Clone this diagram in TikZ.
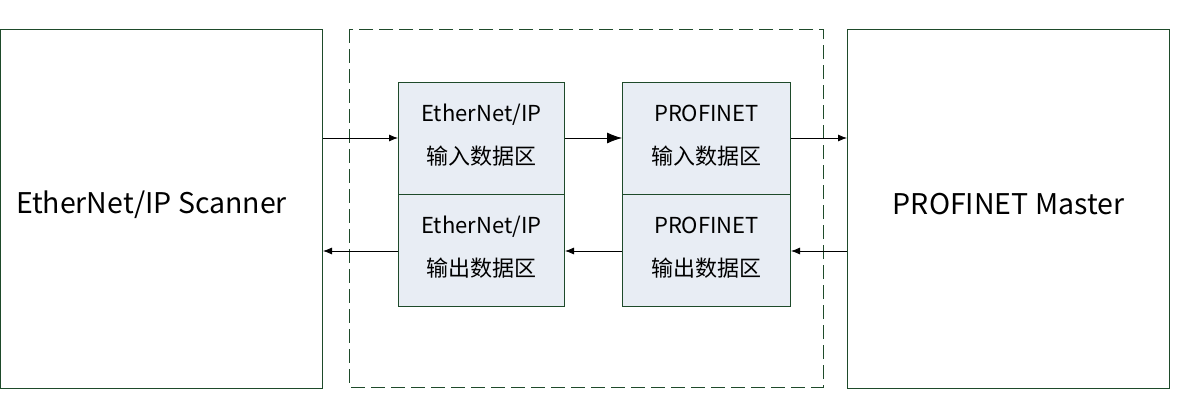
\documentclass[tikz,border=0pt]{standalone}
\usepackage{fontspec}
\setmainfont{Noto Sans CJK SC}
\usetikzlibrary{arrows.meta}
\definecolor{bord}{HTML}{1E4A2A}
\definecolor{boxfill}{HTML}{E8EDF4}
\begin{document}
\begin{tikzpicture}[x=1pt,y=-1pt,
  outer/.style={draw=bord,line width=1pt,minimum width=322pt,minimum height=359pt,inner sep=0pt},
  lbl/.style={font=\fontsize{28.5}{32}\selectfont,inner sep=0pt},
  area/.style={draw=bord,fill=boxfill,line width=1pt,minimum width=166pt,minimum height=112pt,inner sep=0pt},
  txt/.style={inner sep=0pt,align=center,font=\fontsize{22}{43}\selectfont},
  arr/.style={line width=0.8pt,-{Latex[length=9pt,width=7pt]}},
  bigarr/.style={line width=0.8pt,-{Latex[length=15pt,width=11pt]}}]
\useasboundingbox (0,0) rectangle (1179,416);
\node[outer,anchor=north west] (scan) at (0,29) {};
\node[lbl] (scantext) at ([xshift=-10pt,yshift=4.5pt]scan.center) {EtherNet/IP Scanner};
\node[outer,anchor=north west] (master) at (847,29) {};
\node[lbl] (mastertext) at ([yshift=4.5pt]master.center) {PROFINET Master};
\draw[bord,line width=0.8pt,dash pattern=on 14pt off 6pt] (349,29) rectangle (823,387);
\node[area,anchor=north west] (ein) at (398,82) {};
\node[area,anchor=north west] (eout) at (398,194) {};
\node[area,anchor=north west,minimum width=168pt] (pin) at (622,82) {};
\node[area,anchor=north west,minimum width=168pt] (pout) at (622,194) {};
\node[txt] (eintext) at ([yshift=3pt]ein.center) {EtherNet/IP\\输入数据区};
\node[txt] (eouttext) at ([yshift=3pt]eout.center) {EtherNet/IP\\输出数据区};
\node[txt] (pintext) at ([yshift=3pt]pin.center) {PROFINET\\输入数据区};
\node[txt] (pouttext) at ([yshift=3pt]pout.center) {PROFINET\\输出数据区};
\draw[arr] (scan.east |- 0,138) -- (ein.west |- 0,138);
\draw[bigarr] (ein.east |- 0,138) -- (pin.west |- 0,138);
\draw[arr] (pin.east |- 0,138) -- (master.west |- 0,138);
\draw[arr] (master.west |- 0,251) -- (pout.east |- 0,251);
\draw[arr] (pout.west |- 0,251) -- (eout.east |- 0,251);
\draw[arr] (eout.west |- 0,251) -- (scan.east |- 0,251);
\end{tikzpicture}
\end{document}
